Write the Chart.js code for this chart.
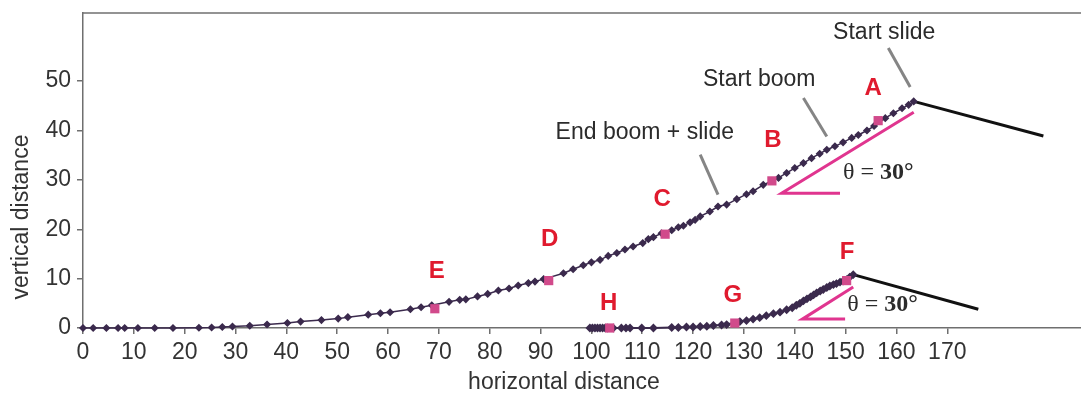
<!DOCTYPE html>
<html>
<head>
<meta charset="utf-8">
<script src="https://cdn.jsdelivr.net/npm/chart.js@4"></script>
<style>
  html, body { margin: 0; padding: 0; background: #fff; }
  canvas { display: block; }
</style>
</head>
<body>
<canvas id="slideChart" width="1081" height="394"></canvas>
<script>
// 上側の軌跡 (A-E)
const upperX = [0, 2, 4.6, 6.9, 8.2, 10.8, 14.1, 17.7, 22.8, 25.3, 27.4, 29.4, 32.8, 36.2, 40.2, 42.8, 46.9, 50.2, 52.1, 56.1, 58.5, 60.4, 64.4, 66.5, 68.6, 72.0, 74.1, 75.3, 77.6, 79.6, 81.7, 83.8, 85.6, 87.6, 88.9, 90.6, 94.5, 96.4, 98.4, 100.0, 101.7, 103.3, 105.0, 106.6, 108.2, 110.1, 111.2, 112.2, 113.8, 115.8, 117.1, 118.1, 119.4, 120.4, 121.4, 123.3, 124.9, 126.6, 128.6, 130.5, 131.8, 133.8, 136.8, 138.4, 140.0, 141.7, 143.3, 144.9, 146.3, 147.9, 149.5, 151.2, 152.5, 154.2, 155.6, 157.8, 159.4, 161.1, 162.4, 163.4];
const upperY = [0, 0, 0, 0, 0, 0, 0, 0, 0.05, 0.1, 0.2, 0.3, 0.45, 0.7, 1.0, 1.3, 1.6, 1.9, 2.2, 2.7, 3.0, 3.2, 3.8, 4.2, 4.6, 5.3, 5.7, 5.8, 6.4, 6.9, 7.6, 8.0, 8.6, 9.1, 9.4, 9.9, 11.1, 11.9, 12.7, 13.3, 13.8, 14.6, 15.2, 15.9, 16.5, 17.2, 18.0, 18.4, 19.2, 19.8, 20.4, 20.7, 21.4, 21.9, 22.6, 23.6, 24.6, 25.0, 26.1, 27.1, 27.7, 29.0, 30.4, 31.4, 32.4, 33.4, 34.4, 35.3, 36.1, 36.8, 37.6, 38.5, 39.1, 40.0, 40.9, 42.5, 43.5, 44.5, 45.2, 45.9];

// 下側の軌跡 (F-H)
const lowerX = [99.7, 100.2, 100.7, 101.2, 101.7, 102.2, 102.7, 103.2, 104.3, 105.9, 106.8, 107.6, 109.9, 112.2, 115.8, 117.1, 118.7, 120.0, 121.4, 122.7, 124.0, 125.6, 126.6, 129.2, 130.5, 131.8, 133.1, 134.4, 135.8, 137.1, 138.4, 139.5, 140.3, 141.0, 141.7, 142.4, 143.1, 143.7, 144.3, 145.0, 145.6, 146.3, 146.9, 147.6, 148.2, 148.9, 149.5, 150.2, 150.8, 151.5];
const lowerY = [0, 0, 0, 0, 0, 0, 0, 0, 0, 0, 0, 0, 0, 0, 0.1, 0.1, 0.2, 0.2, 0.3, 0.35, 0.5, 0.6, 0.7, 1.3, 1.5, 1.8, 2.1, 2.5, 2.9, 3.2, 3.7, 4.1, 4.6, 5.0, 5.5, 5.9, 6.3, 6.7, 7.1, 7.5, 7.8, 8.2, 8.5, 8.8, 9.0, 9.3, 9.5, 9.8, 10.3, 10.8];

// 基準点 A-H (ピンクの四角)
const refNames = ['A', 'B', 'C', 'D', 'E', 'F', 'G', 'H'];
const refX = [156.4, 135.5, 114.5, 91.6, 69.2, 150.2, 128.2, 103.6];
const refY = [42.0, 29.8, 19.0, 9.6, 3.9, 9.6, 1.0, 0];
const letterX = [155.4, 135.7, 113.9, 91.8, 69.6, 150.3, 127.8, 103.4];
const letterY = [48.6, 38.1, 26.0, 17.9, 11.4, 15.4, 6.7, 4.9];

// 斜面 (黒線)
const upperSlopeX = [163.4, 188.9];
const upperSlopeY = [45.9, 38.9];
const lowerSlopeX = [151.5, 176.1];
const lowerSlopeY = [10.8, 3.8];

// 角度の記号 (ピンク線)
const upperAngleX = [163.4, 137.4, 148.9];
const upperAngleY = [43.7, 27.3, 27.3];
const lowerAngleX = [151.5, 141.5, 149.9];
const lowerAngleY = [8.3, 1.8, 1.8];

// 注釈
const noteTexts = ['Start slide', 'Start boom', 'End boom + slide'];
const noteX = [157.6, 133.0, 110.5];
const noteY = [59.8, 50.4, 39.5];
const leaderX = [[158.4, 162.7], [141.7, 146.3], [121.4, 124.9]];
const leaderY = [[56.7, 48.8], [46.6, 38.8], [35.1, 27.0]];
const thetaX = [149.5, 150.3];
const thetaY = [31.4, 4.7];

// 目盛り
const xTicks = [0, 10, 20, 30, 40, 50, 60, 70, 80, 90, 100, 110, 120, 130, 140, 150, 160, 170];
const yTicks = [0, 10, 20, 30, 40, 50];

const SANS = '"Liberation Sans", Arial, sans-serif';
const SERIF = '"Liberation Serif", "Times New Roman", serif';
const AXIS_GRAY = '#6f6f6f';
const CURVE = '#3b2a4d';
const PINK = '#e0358f';

function pts(xs, ys) {
    return xs.map((x, i) => ({ x: x, y: ys[i] }));
}

function lineSet(xs, ys, color, width) {
    return {
        data: pts(xs, ys),
        borderColor: color,
        borderWidth: width,
        pointRadius: 0,
        showLine: true,
        clip: false
    };
}

// index 0 が一番上に描かれる
const datasets = [
    {
        data: pts(refX, refY),
        pointStyle: 'rect',
        pointRadius: 6.5,
        pointBackgroundColor: '#d14a8b',
        pointBorderColor: '#d14a8b',
        pointBorderWidth: 0,
        showLine: false,
        clip: false
    },
    {
        data: pts(upperX, upperY),
        borderColor: CURVE,
        borderWidth: 1.5,
        pointStyle: 'rectRot',
        pointRadius: 3,
        pointBackgroundColor: CURVE,
        pointBorderColor: CURVE,
        showLine: true,
        clip: false
    },
    {
        data: pts(lowerX, lowerY),
        borderColor: CURVE,
        borderWidth: 2,
        pointStyle: 'rectRot',
        pointRadius: 3,
        pointBackgroundColor: CURVE,
        pointBorderColor: CURVE,
        showLine: true,
        clip: false
    },
    lineSet(upperSlopeX, upperSlopeY, '#111', 3),
    lineSet(lowerSlopeX, lowerSlopeY, '#111', 3),
    lineSet(upperAngleX, upperAngleY, PINK, 3),
    lineSet(lowerAngleX, lowerAngleY, PINK, 3),
    ...leaderX.map((xs, i) => lineSet(xs, leaderY[i], '#858585', 3))
];

// 文字と枠の描画
const textPlugin = {
    id: 'textPlugin',
    afterDraw(chart) {
        const ctx = chart.ctx;
        const xs = chart.scales.x;
        const ys = chart.scales.y;
        const area = chart.chartArea;
        ctx.save();

        // 上枠
        ctx.strokeStyle = AXIS_GRAY;
        ctx.lineWidth = 1.5;
        ctx.beginPath();
        ctx.moveTo(area.left, area.top);
        ctx.lineTo(area.right, area.top);
        ctx.stroke();

        ctx.textAlign = 'center';
        ctx.textBaseline = 'middle';

        // A-H
        ctx.fillStyle = '#e01a2e';
        ctx.font = 'bold 24px ' + SANS;
        refNames.forEach((n, i) => {
            ctx.fillText(n, xs.getPixelForValue(letterX[i]), ys.getPixelForValue(letterY[i]));
        });

        // 注釈
        ctx.fillStyle = '#2b2b2b';
        ctx.font = '23px ' + SANS;
        noteTexts.forEach((t, i) => {
            ctx.fillText(t, xs.getPixelForValue(noteX[i]), ys.getPixelForValue(noteY[i]));
        });

        // θ = 30°
        ctx.textAlign = 'left';
        thetaX.forEach((tx, i) => {
            let px = xs.getPixelForValue(tx);
            const py = ys.getPixelForValue(thetaY[i]);
            ctx.font = '24px ' + SERIF;
            ctx.fillText('θ = ', px, py);
            px += ctx.measureText('θ = ').width;
            ctx.font = 'bold 24px ' + SERIF;
            ctx.fillText('30°', px, py);
        });

        // 軸タイトル
        ctx.fillStyle = '#333';
        ctx.font = '23px ' + SANS;
        ctx.textAlign = 'center';
        ctx.fillText('horizontal distance', 564, 383);
        ctx.translate(22, 217);
        ctx.rotate(-Math.PI / 2);
        ctx.fillText('vertical distance', 0, 0);
        ctx.restore();
    }
};

new Chart(document.getElementById('slideChart'), {
    type: 'scatter',
    data: { datasets: datasets },
    options: {
        responsive: false,
        animation: false,
        layout: { autoPadding: false, padding: { top: 13, right: 0, left: 0, bottom: 0 } },
        plugins: {
            legend: { display: false },
            tooltip: { enabled: false }
        },
        scales: {
            x: {
                type: 'linear',
                min: 0,
                max: 196.3,
                afterFit: s => { s.height = 66; s.paddingLeft = 0; s.paddingRight = 0; },
                afterBuildTicks: s => { s.ticks = xTicks.map(v => ({ value: v })); },
                grid: { drawOnChartArea: false, drawTicks: true, tickLength: 6, color: AXIS_GRAY, lineWidth: 1.5 },
                border: { color: AXIS_GRAY, width: 1.5 },
                ticks: { color: '#333', padding: 5, maxRotation: 0, autoSkip: false, font: { family: SANS, size: 23 } }
            },
            y: {
                min: 0,
                max: 63.8,
                afterFit: s => { s.width = 83; s.paddingTop = 0; s.paddingBottom = 0; },
                afterBuildTicks: s => { s.ticks = yTicks.map(v => ({ value: v })); },
                grid: { drawOnChartArea: false, drawTicks: true, tickLength: 6, color: AXIS_GRAY, lineWidth: 1.5 },
                border: { color: AXIS_GRAY, width: 1.5 },
                ticks: { color: '#333', padding: 6, font: { family: SANS, size: 23 } }
            }
        }
    },
    plugins: [textPlugin]
});
</script>
</body>
</html>
